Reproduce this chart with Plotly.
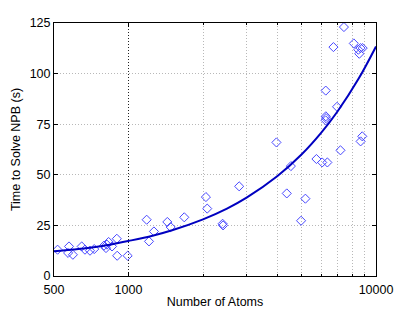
import plotly.graph_objects as go

atoms = [517, 575, 570, 596, 647, 667, 699, 727, 796, 811, 831, 818, 858, 897, 900, 992,
         1184, 1210, 1267, 1435, 1480, 1680, 2055, 2080, 2400, 2410, 2800, 3960, 4360, 4530,
         4980, 5185, 5745, 6060, 6360, 6265, 6270, 6280, 6260, 6960, 7185, 6730, 7420, 8135,
         8485, 8560, 8660, 8835, 8800, 8665]
times = [13.0, 14.6, 11.4, 10.5, 14.6, 13.0, 12.5, 13.3, 15.0, 13.8, 16.8, 15.5, 14.6, 18.4, 10.0, 10.0,
         27.8, 17.1, 22.0, 26.7, 24.2, 29.0, 39.0, 33.3, 25.8, 25.0, 44.3, 66.0, 40.8, 54.3,
         27.3, 38.2, 57.8, 56.1, 56.1, 91.6, 78.9, 78.0, 76.9, 83.6, 62.1, 113.1, 123.0, 114.9,
         111.8, 109.8, 112.6, 112.6, 69.0, 66.5]

fit_atoms = [500, 600, 700, 850, 1000, 1250, 1500, 2000, 2500, 3000, 4000, 5000, 6000, 7000, 8500, 10000]
fit_times = [12.2, 13.1, 14.0, 15.6, 17.3, 19.9, 22.6, 28.0, 33.3, 38.7, 49.4, 60.0, 70.7, 81.4, 97.4, 113.4]

x_ticks = [500, 1000, 10000]
x_tick_text = ["500", "1000", "10000"]
x_minor = [2000, 3000, 4000, 5000, 6000, 7000, 8000, 9000]
y_ticks = [0, 25, 50, 75, 100, 125]

font = dict(family="Liberation Sans, Arial, Helvetica, sans-serif", size=12.5, color="black")

fig = go.Figure()
fig.add_trace(go.Scatter(
    x=atoms, y=times, mode="markers",
    marker=dict(symbol="diamond-open", size=7, color="#4848ff", line=dict(width=1, color="#4848ff")),
    showlegend=False, hoverinfo="skip"))
fig.add_trace(go.Scatter(
    x=fit_atoms, y=fit_times, mode="lines", line=dict(color="#0000c0", width=2, shape="spline"),
    showlegend=False, hoverinfo="skip"))

fig.update_layout(
    width=415, height=312,
    margin=dict(l=54, r=39, t=23, b=36, autoexpand=False),
    paper_bgcolor="white", plot_bgcolor="white",
    font=font,
    xaxis=dict(
        type="log", range=[2.69897, 4.0], automargin=False,
        tickmode="array", tickvals=x_ticks, ticktext=x_tick_text,
        ticks="inside", ticklen=4, tickcolor="black",
        showline=True, linecolor="black", linewidth=1, mirror="allticks",
        showgrid=True, gridcolor="#222222", griddash="1px,2px", gridwidth=1,
        zeroline=False, ticklabelstandoff=2,
        title=dict(text="Number of Atoms", font=font, standoff=1),
        minor=dict(tickmode="array", tickvals=x_minor, ticks="inside", ticklen=2,
                   tickcolor="black", showgrid=True, gridcolor="#b8b8b8", griddash="1px,2px", gridwidth=1),
    ),
    yaxis=dict(
        range=[0, 125], tickmode="array", tickvals=y_ticks, automargin=False,
        ticks="inside", ticklen=4, tickcolor="black",
        showline=True, linecolor="black", linewidth=1, mirror="allticks",
        showgrid=True, gridcolor="#b8b8b8", griddash="1px,2px", gridwidth=1,
        zeroline=False,
        title=dict(text="Time to Solve NPB (s)", font=font, standoff=6),
    ),
)

fig.write_html("out.html", config={"displayModeBar": False},
               post_script="document.body.style.margin='0';")
